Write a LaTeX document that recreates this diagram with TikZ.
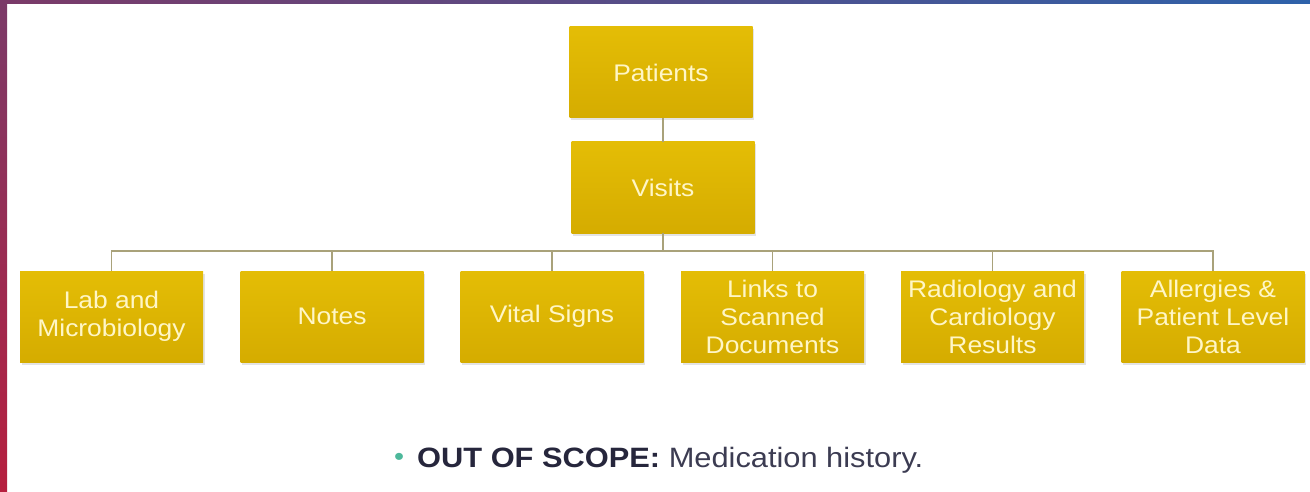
\documentclass[tikz,border=0pt]{standalone}
\usepackage{fontspec}
\setmainfont{Liberation Sans}[FakeStretch=1.1]
\usetikzlibrary{calc}
\usetikzlibrary{shadows}

\definecolor{goldtop}{HTML}{E4BD06}
\definecolor{goldbot}{HTML}{D5AC00}
\definecolor{boxtext}{HTML}{FFF6C6}
\definecolor{linkgray}{HTML}{A9A27A}
\definecolor{frameplum}{HTML}{7B3A68}
\definecolor{framered}{HTML}{B61F3E}
\definecolor{frameblue}{HTML}{2E62AA}
\definecolor{bulletteal}{HTML}{4DB89B}
\definecolor{scopeink}{HTML}{26263C}
\definecolor{histink}{HTML}{3C3C52}

\begin{document}
\begin{tikzpicture}[x=1pt,y=1pt,
  box/.style={draw=none, top color=goldtop, bottom color=goldbot,
    minimum width=183pt, minimum height=91pt, inner sep=2pt,
    align=center, text=boxtext, font=\fontsize{24}{28}\selectfont,
    drop shadow={opacity=0.22, shadow xshift=1.5pt, shadow yshift=-2.5pt}},
  link/.style={draw=linkgray, line width=1.3pt}]
  \useasboundingbox (0,0) rectangle (1310,491);
  % frame strips
  \shade[top color=frameplum, bottom color=framered] (0,0) rectangle (7,491);
  \shade[left color=frameplum, right color=frameblue] (0,487) rectangle (1310,491);

  % top of the tree
  \node[box] (patients) at (661,418.5) {Patients};
  \node[box] (visits) at (663,303.5) {Visits};

  % leaves
  \node[box] (lab) at (111.5,174.5) {Lab and\\Microbiology};
  \node[box] (notes) at (332,174.5) {Notes};
  \node[box] (vital) at (552,174.5) {Vital Signs};
  \node[box] (links) at (772.5,174.5) {Links to\\Scanned\\Documents};
  \node[box] (radio) at (992.5,174.5) {Radiology and\\Cardiology\\Results};
  \node[box] (allergy) at (1213,174.5) {Allergies \&\\Patient Level\\Data};

  % connectors
  \coordinate (bus) at (663,240);
  \draw[link] (patients.south -| bus) -- (visits.north -| bus);
  \draw[link] (visits.south -| bus) -- (bus);
  \foreach \leaf in {lab,notes,vital,links,radio,allergy}
    \draw[link] (bus) -| (\leaf.north);

  \node[anchor=base west, inner sep=0pt, font=\fontsize{28}{32}\selectfont] (scope) at (394,24)
    {\textcolor{bulletteal}{\fontsize{26}{28}\selectfont\raisebox{1.5pt}{•}}\hspace{13pt}%
     \textcolor{scopeink}{\textbf{OUT OF SCOPE:}} \textcolor{histink}{Medication history.}};
\end{tikzpicture}
\end{document}
